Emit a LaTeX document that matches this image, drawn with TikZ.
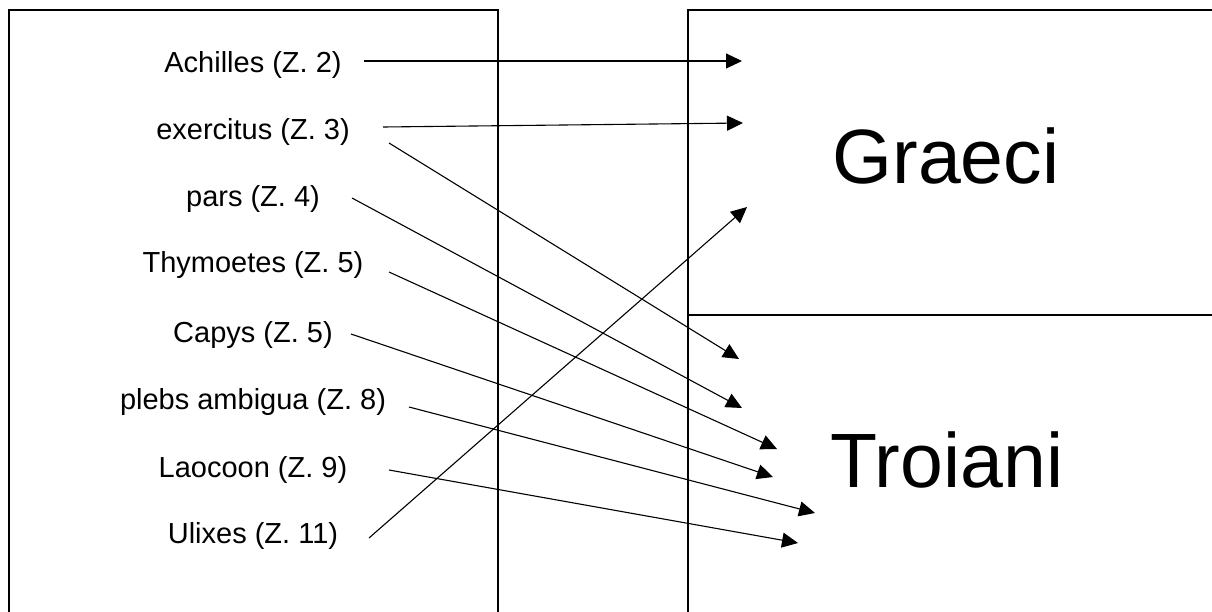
\documentclass[tikz,border=0pt]{standalone}
\usepackage{fontspec}
\setmainfont{Liberation Sans}
\usetikzlibrary{arrows.meta}
\begin{document}
\begin{tikzpicture}[x=1pt,y=-1pt,
  frame/.style={line width=2pt},
  persontext/.style={anchor=base,inner sep=0pt,font=\fontsize{29}{35}\selectfont},
  peopletext/.style={anchor=base,inner sep=0pt,font=\fontsize{77}{90}\selectfont},
  link/.style={line width=1.1pt,-{Triangle[length=16pt,width=15pt]}}]
\useasboundingbox (0,0) rectangle (1212,611);
\begin{scope}
\clip (0,0) rectangle (1212,611);
% column of names
\draw[frame] (9,620) -- (9,10) -- (498,10) -- (498,620);
% the two peoples
\draw[frame] (688,620) -- (688,10) -- (1220,10);
\draw[frame] (688,315) -- (1220,315);
\end{scope}

\node[peopletext] (graeci) at (946,183) {Graeci};
\node[peopletext] (troiani) at (947,487) {Troiani};

\node[persontext] (achilles)  at (253,72)  {Achilles (Z. 2)};
\node[persontext] (exercitus) at (253,139) {exercitus (Z. 3)};
\node[persontext] (pars)      at (253,206) {pars (Z. 4)};
\node[persontext] (thymoetes) at (253,272) {Thymoetes (Z. 5)};
\node[persontext] (capys)     at (253,342) {Capys (Z. 5)};
\node[persontext] (plebs)     at (253,409) {plebs ambigua (Z. 8)};
\node[persontext] (laocoon)   at (253,477) {Laocoon (Z. 9)};
\node[persontext] (ulixes)    at (253,543) {Ulixes (Z. 11)};

% line starts beside the names
\coordinate (sA)  at (364,61);
\coordinate (sE1) at (383,127);
\coordinate (sE2) at (389,143);
\coordinate (sP)  at (352,198);
\coordinate (sT)  at (389,272);
\coordinate (sC)  at (351,334);
\coordinate (sPl) at (409,407);
\coordinate (sL)  at (389,470);
\coordinate (sU)  at (369,538);

% arrow tips
\coordinate (tA)  at (742,61);
\coordinate (tE1) at (743,123);
\coordinate (tE2) at (739,359);
\coordinate (tP)  at (742,408);
\coordinate (tT)  at (777,449);
\coordinate (tC)  at (773,477);
\coordinate (tPl) at (815,513);
\coordinate (tL)  at (798,543);
\coordinate (tU)  at (747,207);

\draw[link] (sA)  -- (tA);
\draw[link] (sE1) -- (tE1);
\draw[link] (sE2) -- (tE2);
\draw[link] (sP)  -- (tP);
\draw[link] (sT)  -- (tT);
\draw[link] (sC)  -- (tC);
\draw[link] (sPl) -- (tPl);
\draw[link] (sL)  -- (tL);
\draw[link] (sU)  -- (tU);
\end{tikzpicture}
\end{document}
